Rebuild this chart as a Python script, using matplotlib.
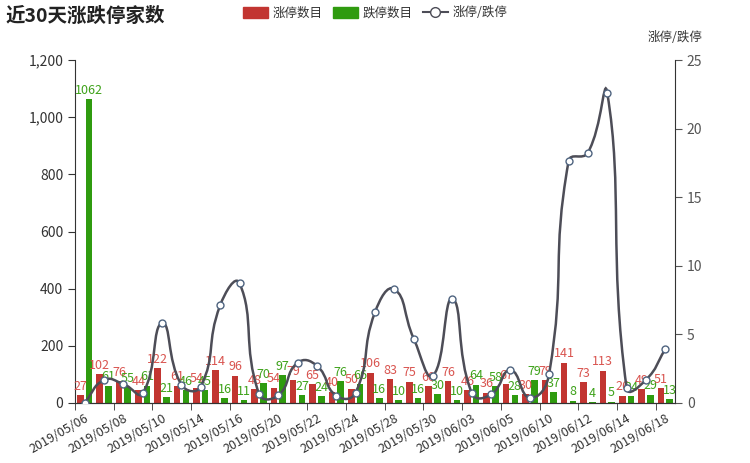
import matplotlib
matplotlib.use("Agg")
import matplotlib.pyplot as plt
from matplotlib.path import Path
from matplotlib.patches import PathPatch, Patch
from matplotlib.lines import Line2D
from matplotlib.ticker import FuncFormatter, MultipleLocator
import numpy as np

plt.rcParams['font.family'] = ['Noto Sans CJK SC', 'DejaVu Sans']

# 数据
dates = ['2019/05/06', '2019/05/07', '2019/05/08', '2019/05/09', '2019/05/10',
         '2019/05/13', '2019/05/14', '2019/05/15', '2019/05/16', '2019/05/17',
         '2019/05/20', '2019/05/21', '2019/05/22', '2019/05/23', '2019/05/24',
         '2019/05/27', '2019/05/28', '2019/05/29', '2019/05/30', '2019/05/31',
         '2019/06/03', '2019/06/04', '2019/06/05', '2019/06/06', '2019/06/10',
         '2019/06/11', '2019/06/12', '2019/06/13', '2019/06/14', '2019/06/17',
         '2019/06/18']
zt = [27, 102, 76, 44, 122, 61, 54, 114, 96, 48, 54, 79, 65, 40, 50,
      106, 83, 75, 60, 76, 46, 36, 67, 30, 79, 141, 73, 113, 26, 49, 51]
dt = [1062, 61, 55, 61, 21, 46, 45, 16, 11, 70, 97, 27, 24, 76, 66,
      16, 10, 16, 30, 10, 64, 58, 28, 79, 37, 8, 4, 5, 24, 29, 13]
ratio = [round(a / b, 2) for a, b in zip(zt, dt)]

RED = '#c23531'
GREEN = '#2f9b0f'
LINE = '#4d4d57'

fig = plt.figure(figsize=(7.5, 4.63), dpi=100)
ax = fig.add_axes([0.1, 0.1296, 0.8, 0.7408])
ax2 = ax.twinx()

x = np.arange(len(dates))
w = 0.34
off = 0.226
ax.bar(x - off, zt, width=w, color=RED, zorder=2)
ax.bar(x + off, dt, width=w, color=GREEN, zorder=2)
for i in x:
    ax.text(i - off, zt[i] + 8, str(zt[i]), ha='center', va='bottom', color='#d9544f', fontsize=9, zorder=3)
    ax.text(i + off, dt[i] + 8, str(dt[i]), ha='center', va='bottom', color='#3ea21a', fontsize=9, zorder=3)

ax.set_xlim(-0.5, len(dates) - 0.5)
ax.set_ylim(0, 1200)
ax2.set_ylim(0, 25)
ax.yaxis.set_major_locator(MultipleLocator(200))
ax.yaxis.set_major_formatter(FuncFormatter(lambda v, p: f'{int(v):,}'))
ax2.yaxis.set_major_locator(MultipleLocator(5))

ax.set_xticks(x[::2])
ax.set_xticklabels(dates[::2], rotation=30, ha='right', rotation_mode='anchor', fontsize=9, color='#333')
ax.tick_params(axis='x', length=0, pad=6)
ax.set_xticks(np.arange(len(dates) + 1)[::2] - 0.5, minor=True)
ax.tick_params(axis='x', which='minor', length=5, color='#333')
ax.tick_params(axis='y', labelsize=10, colors='#333', length=5)
ax2.tick_params(axis='y', labelsize=10, colors='#555', length=5)

for a in (ax, ax2):
    a.spines['top'].set_visible(False)
    for s in ('left', 'right', 'bottom'):
        a.spines[s].set_color('#333')
ax.spines['right'].set_visible(False)
ax2.spines['left'].set_visible(False)

# 平滑曲线（贝塞尔控制点）
fig.canvas.draw()
pts = ax2.transData.transform(np.column_stack([x, ratio]))
verts = [tuple(pts[0])]
codes = [Path.MOVETO]
sm = 0.5
n = len(pts)
cps = []
for i in range(n):
    prev = pts[max(i - 1, 0)]
    nxt = pts[min(i + 1, n - 1)]
    v = (nxt - prev) * sm
    d0 = np.hypot(*(pts[i] - prev))
    d1 = np.hypot(*(pts[i] - nxt))
    tot = d0 + d1 if d0 + d1 > 0 else 1
    cps.append((pts[i] - v * d0 / tot, pts[i] + v * d1 / tot))
for i in range(n - 1):
    verts += [tuple(cps[i][1]), tuple(cps[i + 1][0]), tuple(pts[i + 1])]
    codes += [Path.CURVE4] * 3
inv = ax2.transData.inverted()
path = Path(inv.transform(np.array(verts)), codes)
ax2.add_patch(PathPatch(path, fill=False, edgecolor=LINE, lw=1.8, zorder=4))
ax2.plot(x, ratio, ls='none', marker='o', ms=5, mfc='white', mec='#4f6480', mew=1, zorder=5)

fig.text(0.007, 0.965, '近30天涨跌停家数', fontsize=14, fontweight='bold', color='#222', va='center')
fig.text(0.9, 0.92, '涨停/跌停', fontsize=9, color='#333', ha='center', va='center')

handles = [Patch(facecolor=RED, edgecolor=RED), Patch(facecolor=GREEN, edgecolor=GREEN),
           Line2D([0], [0], color=LINE, marker='o', mfc='white', mec=LINE, ms=7, lw=1.5)]
fig.legend(handles, ['涨停数目', '跌停数目', '涨停/跌停'], loc='center', bbox_to_anchor=(0.5, 0.972),
           ncol=3, frameon=False, fontsize=9, handlelength=2.0, handleheight=1.0,
           columnspacing=0.8, handletextpad=0.4, labelcolor='#333')

fig.savefig('out.png', dpi=100)
